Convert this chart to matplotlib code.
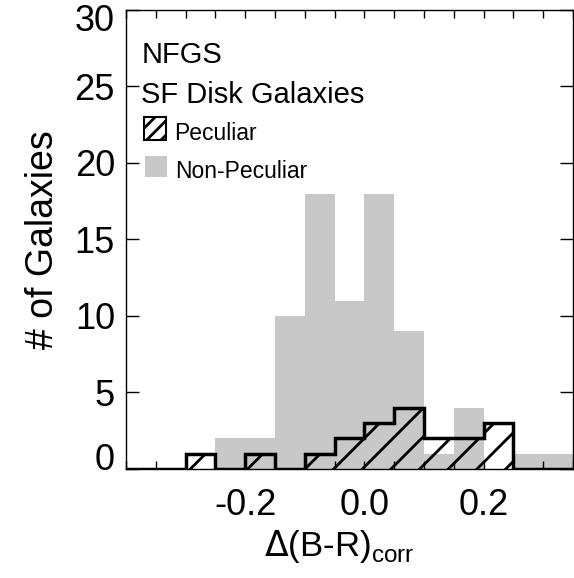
import matplotlib
matplotlib.use("Agg")
import matplotlib.pyplot as plt
import matplotlib.patches as mpatches
from matplotlib.ticker import MultipleLocator, FuncFormatter
from matplotlib.transforms import ScaledTranslation

# a lower dpi gives the denser IDL-like hatch spacing; sizes are
# given as if at 100 dpi and scaled with pt()
DPI = 86
def pt(v):
    return v * 100.0 / DPI

plt.rcParams['font.family'] = ['Liberation Sans', 'DejaVu Sans']
plt.rcParams['hatch.linewidth'] = pt(2.0)

# histogram bins in Delta(B-R)_corr
edges = [-0.40, -0.35, -0.30, -0.25, -0.20, -0.15, -0.10, -0.05,
         0.00, 0.05, 0.10, 0.15, 0.20, 0.25, 0.30, 0.35]
non_peculiar = [0, 0, 0, 2, 2, 10, 18, 11, 18, 9, 1, 4, 0, 1, 1]
peculiar = [0, 0, 1, 0, 1, 0, 1, 2, 3, 4, 2, 2, 3, 0, 0]
xtick_labels = {-0.2: "-0.2", 0.0: "0.0", 0.2: "0.2"}

grey = '#c8c8c8'

fig = plt.figure(figsize=(574.0 / DPI, 578.0 / DPI), dpi=DPI)
ax = fig.add_axes([0.2195, 0.1886, 0.7787, 0.7941])

lefts = edges[:-1]
widths = [edges[i+1] - edges[i] for i in range(len(lefts))]

ax.bar(lefts, non_peculiar, width=widths, align='edge', color=grey,
       linewidth=0, zorder=1)
ax.bar(lefts, peculiar, width=widths, align='edge', fill=False,
       hatch='/', edgecolor='black', linewidth=0, zorder=2)
ax.stairs(peculiar, edges, color='black', linewidth=pt(2.5), zorder=3,
          baseline=0)

ax.set_xlim(-0.40, 0.35)
ax.set_ylim(0, 30)

ax.xaxis.set_major_locator(MultipleLocator(0.05))
ax.xaxis.set_major_formatter(FuncFormatter(
    lambda v, p: xtick_labels.get(round(v, 2), "")))
ax.yaxis.set_major_locator(MultipleLocator(5))
ax.tick_params(axis='x', direction='in', length=pt(6), width=pt(1), top=True,
               labelsize=pt(26), pad=pt(14))
ax.tick_params(axis='y', direction='in', length=pt(9), width=pt(1), right=True,
               labelsize=pt(26), pad=pt(8))
for s in ax.spines.values():
    s.set_linewidth(pt(1))

ax.set_ylabel("# of Galaxies", fontsize=pt(27), labelpad=pt(10))
ax.set_xlabel(r"$\Delta$(B-R)$_{\mathregular{corr}}$", fontsize=pt(25))
ax.xaxis.set_label_coords(0.478, -0.128)

# annotations / legend
ax.text(0.034, 0.885, "NFGS", transform=ax.transAxes, fontsize=pt(21),
        va='baseline', ha='left')
ax.text(0.034, 0.797, "SF Disk Galaxies", transform=ax.transAxes,
        fontsize=pt(21), va='baseline', ha='left')
ax.add_patch(mpatches.Rectangle((0.040, 0.717), 0.049, 0.050,
             transform=ax.transAxes, fill=False, hatch='//',
             edgecolor='black', linewidth=pt(1.5)))
ax.text(0.107, 0.717, "Peculiar", transform=ax.transAxes, fontsize=pt(16.5),
        va='baseline', ha='left')
ax.add_patch(mpatches.Rectangle((0.0425, 0.636), 0.049, 0.046,
             transform=ax.transAxes, color=grey, linewidth=0))
ax.text(0.110, 0.634, "Non-Peculiar", transform=ax.transAxes,
        fontsize=pt(16.5), va='baseline', ha='left')

# IDL style: nudge the end y labels inward
fig.canvas.draw()
for t in ax.yaxis.get_major_ticks():
    v = t.get_loc()
    if abs(v) < 1e-9:
        t.label1.set_transform(t.label1.get_transform() +
                               ScaledTranslation(0, 12/DPI, fig.dpi_scale_trans))
    elif abs(v - 30) < 1e-9:
        t.label1.set_transform(t.label1.get_transform() +
                               ScaledTranslation(0, -8/DPI, fig.dpi_scale_trans))

fig.savefig("out.png", dpi=DPI)
